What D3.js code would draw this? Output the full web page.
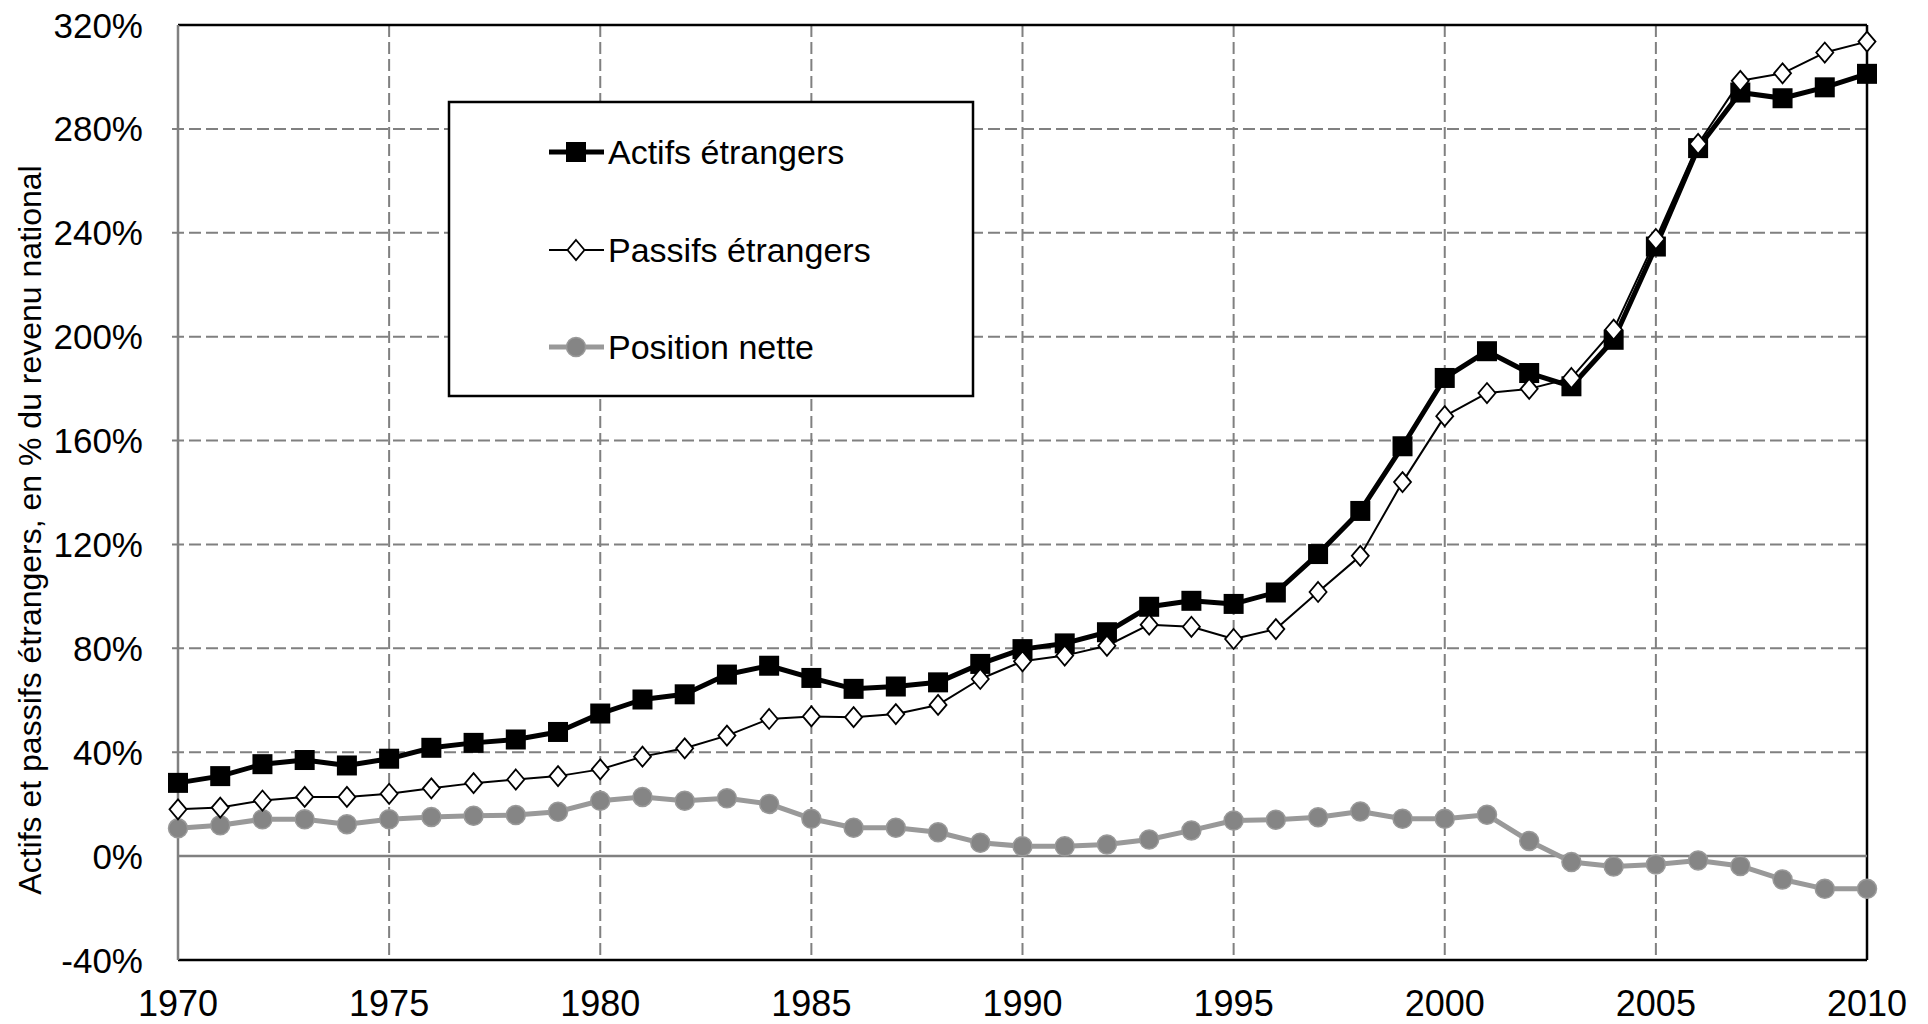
<!DOCTYPE html>
<html>
<head>
<meta charset="utf-8">
<script src="https://cdn.jsdelivr.net/npm/d3@7"></script>
<style>
body { margin: 0; background: #fff; }
</style>
</head>
<body>
<div id="chart"></div>
<script>
var years = [1970, 1971, 1972, 1973, 1974, 1975, 1976, 1977, 1978, 1979,
             1980, 1981, 1982, 1983, 1984, 1985, 1986, 1987, 1988, 1989,
             1990, 1991, 1992, 1993, 1994, 1995, 1996, 1997, 1998, 1999,
             2000, 2001, 2002, 2003, 2004, 2005, 2006, 2007, 2008, 2009, 2010];

var actifs = [28.2, 30.8, 35.4, 37.0, 34.9, 37.5, 41.7, 43.6, 44.9, 47.8,
              54.9, 60.3, 62.3, 69.9, 73.3, 68.6, 64.4, 65.3, 66.9, 74.0,
              79.7, 81.9, 86.2, 96.0, 98.3, 97.1, 101.5, 116.3, 132.9, 157.8,
              184.1, 194.4, 186.0, 180.9, 198.8, 234.7, 272.6, 294.0, 291.8, 296.0, 301.2];

var passifs = [18.0, 18.7, 21.4, 22.8, 22.8, 24.0, 26.1, 28.1, 29.5, 30.8,
               33.4, 38.3, 41.5, 46.4, 52.8, 53.8, 53.5, 54.7, 58.2, 68.2,
               75.0, 77.2, 81.0, 89.1, 88.3, 83.6, 87.4, 101.7, 115.6, 144.0,
               169.4, 178.3, 179.9, 184.1, 202.7, 237.6, 274.2, 298.5, 301.4, 309.4, 313.6];

var nette = [10.7, 11.9, 14.2, 14.2, 12.3, 14.2, 15.1, 15.5, 15.8, 17.1,
             21.3, 22.8, 21.3, 22.3, 20.1, 14.4, 10.9, 10.9, 9.2, 5.1,
             3.8, 3.8, 4.5, 6.4, 9.9, 13.7, 14.0, 15.0, 17.2, 14.4,
             14.4, 15.9, 5.8, -2.3, -4.0, -3.2, -1.7, -3.8, -9.0, -12.6, -12.6];

var xTicks = [1970, 1975, 1980, 1985, 1990, 1995, 2000, 2005, 2010];
var yTicks = [-40, 0, 40, 80, 120, 160, 200, 240, 280, 320];
var seriesNames = ["Actifs étrangers", "Passifs étrangers", "Position nette"];
var yTitle = "Actifs et passifs étrangers, en % du revenu national";

var font = "'Liberation Sans', Arial, sans-serif";
var gridColor = "#808080";
var netColor = "#999999";
var W = 1928, H = 1024;
var plotL = 178, plotR = 1867, plotT = 25, plotB = 960;

var svg = d3.select("div#chart").append("svg")
  .attr("width", W)
  .attr("height", H);

var x = d3.scaleLinear().domain([1970, 2010]).range([plotL, plotR]);
var y = d3.scaleLinear().domain([-40, 320]).range([plotB, plotT]);

// grid
svg.append("g").selectAll("line")
  .data(yTicks.filter(function(t) { return t != 0 && t != -40 && t != 320; }))
  .enter().append("line")
  .attr("x1", plotL - 6).attr("x2", plotR)
  .attr("y1", function(d) { return y(d); }).attr("y2", function(d) { return y(d); })
  .call(gridAttr);

svg.append("g").selectAll("line")
  .data(xTicks.filter(function(t) { return t != 1970 && t != 2010; }))
  .enter().append("line")
  .attr("x1", function(d) { return x(d); }).attr("x2", function(d) { return x(d); })
  .attr("y1", plotT).attr("y2", plotB)
  .call(gridAttr);

// frame
svg.append("line").call(lineAttr, "#000", 2.5, plotL, plotT, plotR, plotT);
svg.append("line").call(lineAttr, "#000", 2.5, plotR, plotT, plotR, plotB);
svg.append("line").call(lineAttr, "#000", 2.5, plotL, plotB, plotR, plotB);
svg.append("line").call(lineAttr, gridColor, 2.5, plotL, plotT, plotL, plotB);
svg.append("line").call(lineAttr, gridColor, 2.5, plotL, y(0), plotR, y(0));

// tick labels
svg.append("g").selectAll("text")
  .data(yTicks)
  .enter().append("text")
  .attr("x", plotL - 35)
  .attr("y", function(d) { return y(d) + 12.5; })
  .attr("text-anchor", "end")
  .text(function(d) { return d + "%"; })
  .call(textAttr, "#000", font, "35px");

svg.append("g").selectAll("text")
  .data(xTicks)
  .enter().append("text")
  .attr("x", function(d) { return x(d); })
  .attr("y", 1016)
  .attr("text-anchor", "middle")
  .text(function(d) { return d; })
  .call(textAttr, "#000", font, "36px");

svg.append("text")
  .attr("transform", "translate(41,530) rotate(-90)")
  .attr("text-anchor", "middle")
  .text(yTitle)
  .call(textAttr, "#000", font, "32px");

// series
var line = d3.line()
  .x(function(d, i) { return x(years[i]); })
  .y(function(d) { return y(d); });

svg.append("path").datum(nette)
  .attr("d", line).attr("fill", "none")
  .attr("stroke", netColor).attr("stroke-width", 5).attr("stroke-linejoin", "round");
svg.append("g").selectAll("circle")
  .data(nette).enter().append("circle")
  .attr("cx", function(d, i) { return x(years[i]); })
  .attr("cy", function(d) { return y(d); })
  .call(circleMark);

svg.append("path").datum(actifs)
  .attr("d", line).attr("fill", "none")
  .attr("stroke", "#000").attr("stroke-width", 5).attr("stroke-linejoin", "round");
svg.append("g").selectAll("rect")
  .data(actifs).enter().append("rect")
  .attr("x", function(d, i) { return x(years[i]) - 10; })
  .attr("y", function(d) { return y(d) - 10; })
  .call(squareMark);

svg.append("path").datum(passifs)
  .attr("d", line).attr("fill", "none")
  .attr("stroke", "#000").attr("stroke-width", 2).attr("stroke-linejoin", "round");
svg.append("g").selectAll("path.dia")
  .data(passifs).enter().append("path")
  .attr("class", "dia")
  .attr("d", function(d, i) { return diamond(x(years[i]), y(d)); })
  .call(diamondMark);

// legend
svg.append("rect")
  .attr("x", 449).attr("y", 102).attr("width", 524).attr("height", 294)
  .attr("fill", "#fff").attr("stroke", "#000").attr("stroke-width", 2.5);

var legY = [152, 250, 347];
svg.append("line").call(lineAttr, "#000", 5, 549, legY[0], 604, legY[0]);
svg.append("rect").attr("x", 576 - 10).attr("y", legY[0] - 10).call(squareMark);
svg.append("line").call(lineAttr, "#000", 2, 549, legY[1], 604, legY[1]);
svg.append("path").attr("d", diamond(576, legY[1])).call(diamondMark);
svg.append("line").call(lineAttr, netColor, 5, 549, legY[2], 604, legY[2]);
svg.append("circle").attr("cx", 576).attr("cy", legY[2]).call(circleMark);

svg.append("g").selectAll("text")
  .data(seriesNames).enter().append("text")
  .attr("x", 608)
  .attr("y", function(d, i) { return legY[i] + 12; })
  .text(function(d) { return d; })
  .call(textAttr, "#000", font, "34px");

function diamond(cx, cy) {
  return "M" + cx + "," + (cy - 10) + "L" + (cx + 8.5) + "," + cy +
         "L" + cx + "," + (cy + 10) + "L" + (cx - 8.5) + "," + cy + "Z";
}

function gridAttr(selection) {
  selection
    .attr("stroke", gridColor)
    .attr("stroke-width", 2)
    .attr("stroke-dasharray", "12,5");
}

function lineAttr(selection, stroke, width, x1, y1, x2, y2) {
  selection
    .attr("stroke", stroke)
    .attr("stroke-width", width)
    .attr("x1", x1).attr("y1", y1)
    .attr("x2", x2).attr("y2", y2);
}

function circleMark(selection) {
  selection
    .attr("r", 9.5)
    .attr("fill", "#858585")
    .attr("stroke", netColor)
    .attr("stroke-width", 1.5);
}

function squareMark(selection) {
  selection
    .attr("width", 20).attr("height", 20)
    .attr("fill", "#000");
}

function diamondMark(selection) {
  selection
    .attr("fill", "#fff")
    .attr("stroke", "#000")
    .attr("stroke-width", 1.8);
}

function textAttr(selection, fill, fontFamily, fontSize) {
  selection
    .attr("fill", fill)
    .attr("font-family", fontFamily)
    .attr("font-size", fontSize);
}
</script>
</body>
</html>
